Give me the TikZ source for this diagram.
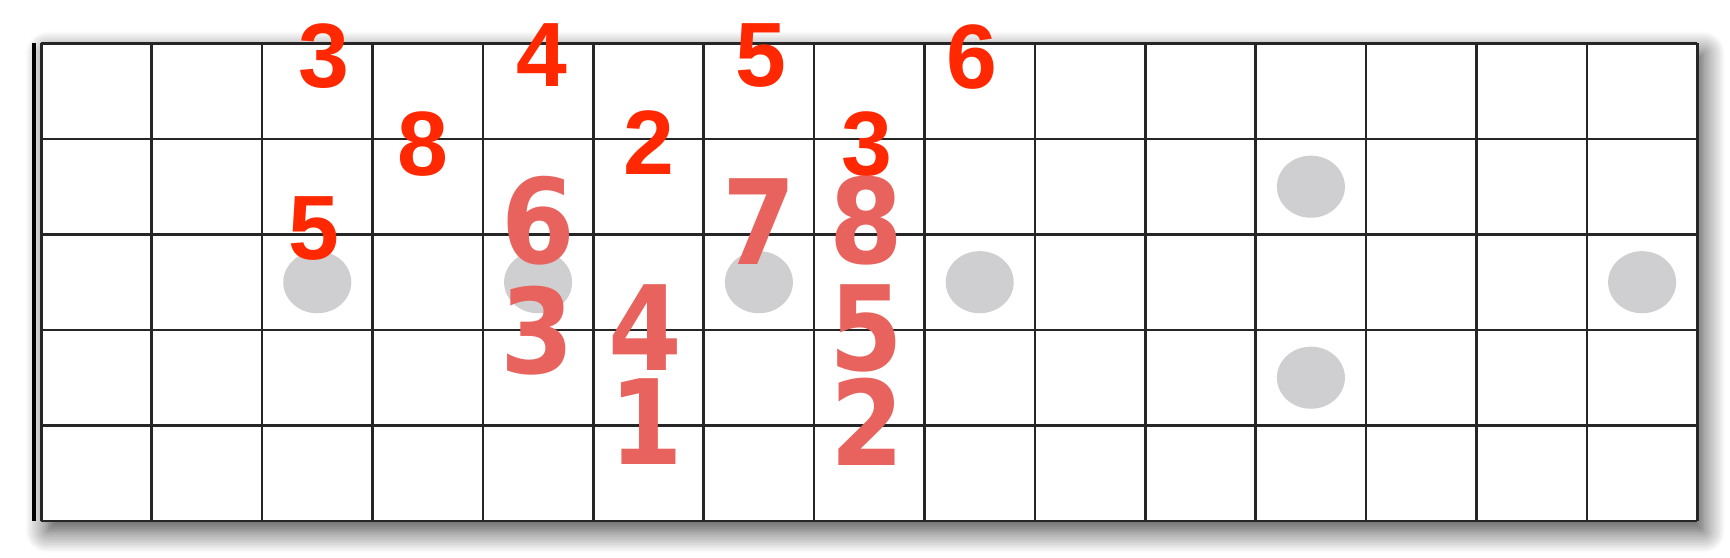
\documentclass[tikz,border=0pt]{standalone}
\usepackage{fontspec}
\setmainfont{Liberation Sans}
\newfontfamily\fadedfont{DejaVu Sans}[FakeStretch=0.9]
\usetikzlibrary{shadows.blur}

\definecolor{notered}{RGB}{255,40,0}
\definecolor{notefaded}{RGB}{232,99,93}
\definecolor{markergray}{RGB}{207,206,208}

\begin{document}
\begin{tikzpicture}[x=1.104cm, y=-0.955cm]
  \tikzset{fretline/.style={draw=black!85, line width=0.75pt}}
  \tikzset{marker/.style={fill=markergray}}
  \tikzset{tone/.style={text=notered, inner sep=0pt,
      font=\bfseries\fontsize{26}{26}\selectfont}}
  \tikzset{ghosttone/.style={text=notefaded, inner sep=0pt,
      font=\fadedfont\bfseries\fontsize{33.5}{33.5}\selectfont}}

  \useasboundingbox (-0.374,-0.455) rectangle (15.296,5.387);

  % neck
  \fill[white, blur shadow={shadow xshift=0.06cm, shadow yshift=-0.1cm,
      shadow blur radius=0.22cm, shadow blur steps=14, shadow opacity=75}]
    (0,0) rectangle (15,5);
  \foreach \s in {0,...,5}
    \draw[fretline] (0,\s) -- (15,\s);
  \foreach \f in {0,...,15}
    \draw[fretline] (\f,0) -- (\f,5);
  \draw[line width=1.3pt] (-0.067,0) -- (-0.067,5);

  % inlays
  \foreach \x/\y in {2.5/2.5, 4.5/2.5, 6.5/2.5, 8.5/2.5, 11.5/1.5, 11.5/3.5, 14.5/2.5}
    \fill[marker] (\x,\y) ellipse [x radius=0.308, y radius=0.325];

  % degrees, upper shape
  \foreach \x/\y/\t [count=\i] in {2.56/0.13/3, 4.53/0.12/4, 6.52/0.13/5, 8.43/0.14/6,
      3.46/1.05/8, 5.50/1.04/2, 7.48/1.05/3, 2.47/1.94/5}
    \node[tone] (up\i) at (\x,\y) {\t};

  % degrees, lower shape
  \foreach \x/\y/\t [count=\i] in {4.50/1.86/6, 4.49/3.01/3, 6.50/1.86/7, 7.47/1.86/8,
      5.47/2.97/4, 7.47/2.98/5, 5.48/3.96/1, 7.48/3.96/2}
    \node[ghosttone] (low\i) at (\x,\y) {\t};
\end{tikzpicture}
\end{document}
